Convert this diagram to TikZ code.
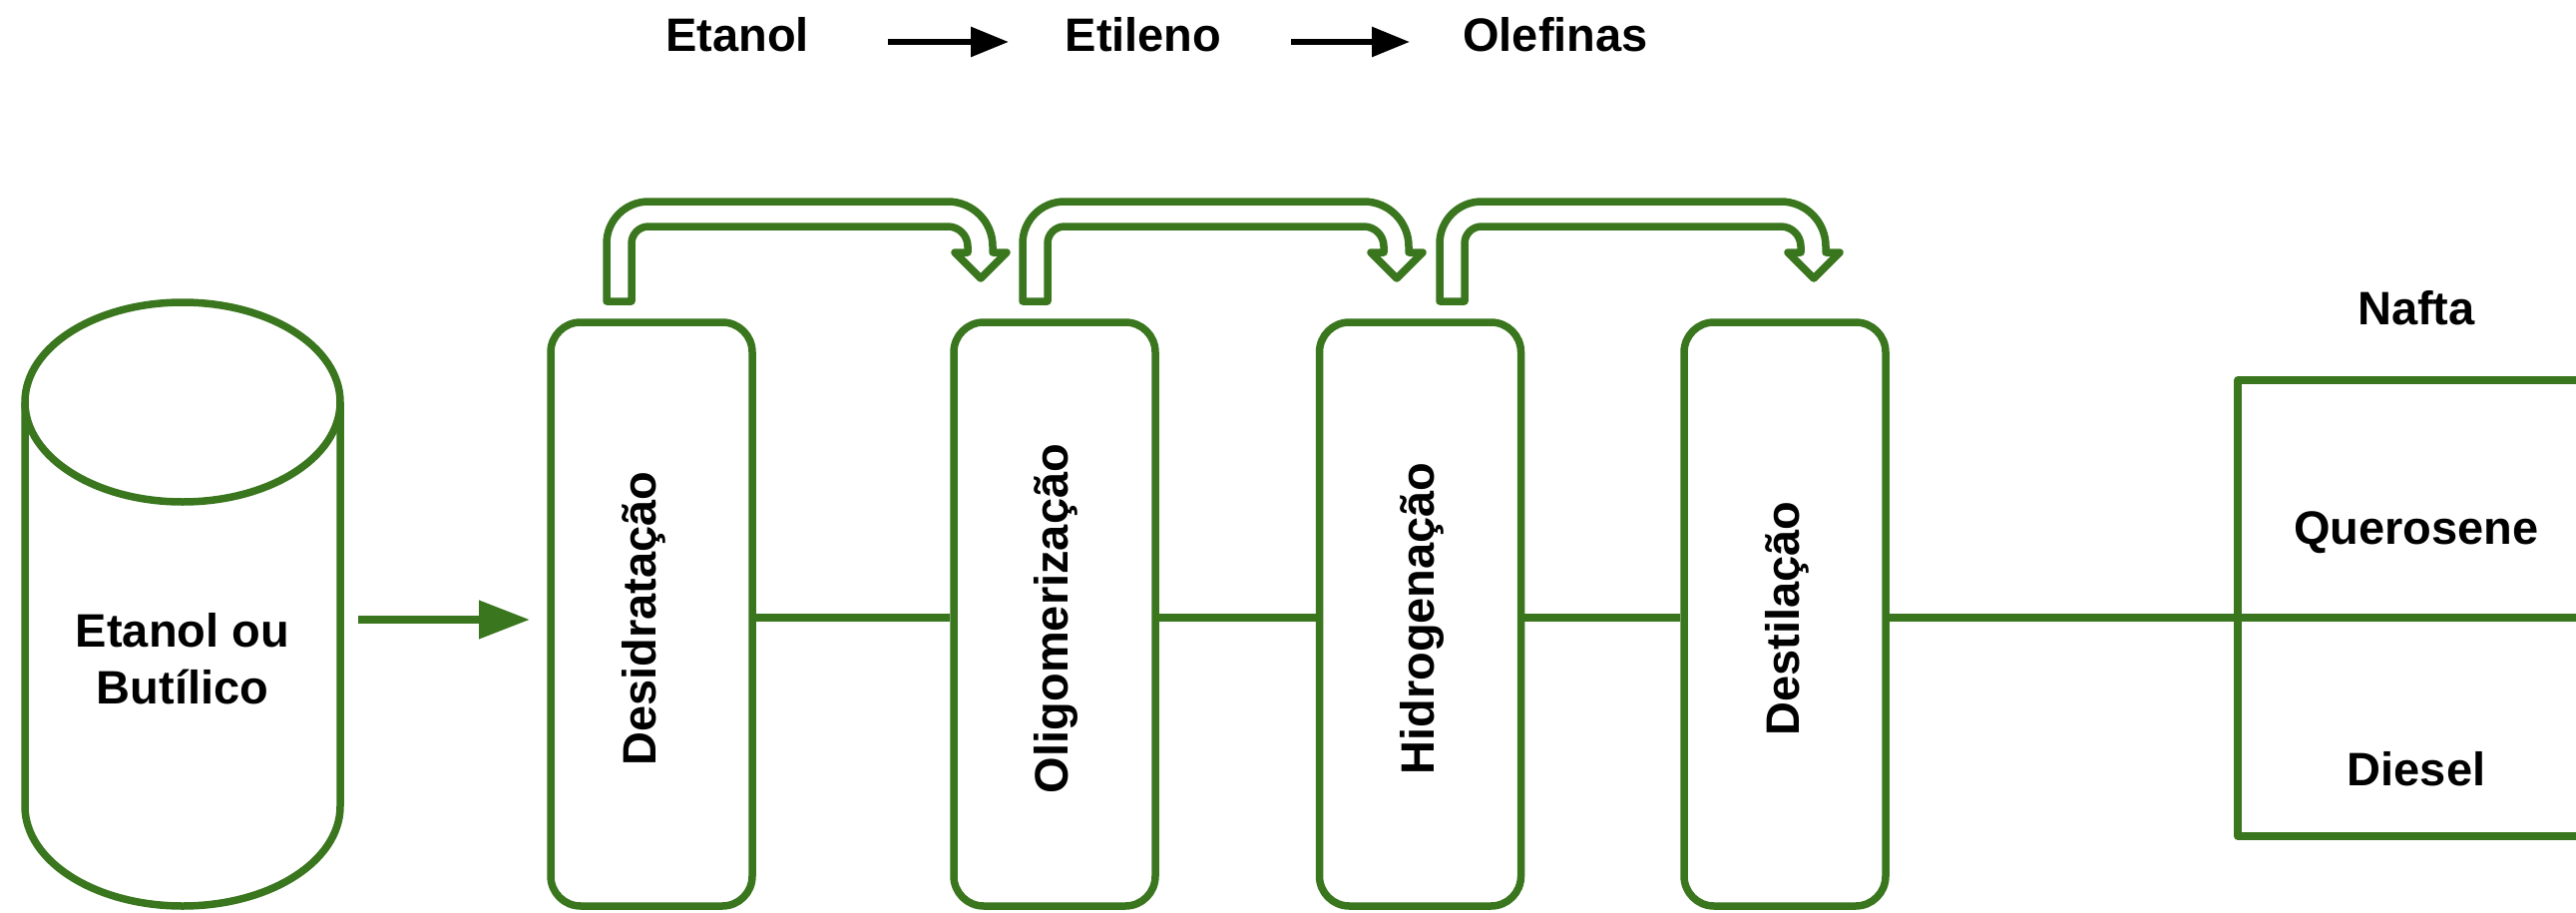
\documentclass[tikz,border=0pt]{standalone}
\usepackage{fontspec}
\setmainfont{Liberation Sans}
\usetikzlibrary{arrows.meta}
\definecolor{vd}{RGB}{58,118,30}
\begin{document}
\begin{tikzpicture}[x=1pt,y=-1pt,line join=round,
  gline/.style={draw=vd,line width=7.5pt},
  procbox/.style={draw=vd,line width=7.5pt,rounded corners=30pt,minimum width=202pt,minimum height=585pt,inner sep=0pt},
  lbl/.style={font=\bfseries\fontsize{47}{57}\selectfont,inner sep=0pt,anchor=base},
  vlbl/.style={lbl,rotate=90},
  bent/.style={draw=vd,line width=7.5pt,line join=round,fill=white}]
\useasboundingbox (0,0) rectangle (2582,915);
\fill[white] (0,0) rectangle (2582,915);

% top chain
\node[lbl] (et) at (739,52) {Etanol};
\node[lbl] (eti) at (1146,52) {Etileno};
\node[lbl] (ole) at (1559,52) {Olefinas};
\coordinate (ta0) at (890,42); \coordinate (ta1) at (1011,42);
\coordinate (tb0) at (1294,42); \coordinate (tb1) at (1413,42);
\draw[line width=6pt,-{Triangle[length=38pt,width=29pt]}] (ta0) -- (ta1);
\draw[line width=6pt,-{Triangle[length=38pt,width=29pt]}] (tb0) -- (tb1);

% cylinder
\draw[gline] (25,403) -- (25,808) arc[start angle=180,end angle=0,x radius=158,y radius=100] -- (341,403);
\draw[gline] (183,403) ellipse [x radius=158,y radius=100];
\node[lbl,align=center] (src) at (183,705) {Etanol ou\\Butílico};

% boxes
\node[procbox] (b1) at (653,615.5) {};
\node[procbox] (b2) at (1057,615.5) {};
\node[procbox] (b3) at (1423.5,615.5) {};
\node[procbox] (b4) at (1789,615.5) {};
\node[vlbl] (l1) at (657,620) {Desidratação};
\node[vlbl] (l2) at (1070,620) {Oligomerização};
\node[vlbl] (l3) at (1437,620) {Hidrogenação};
\node[vlbl] (l4) at (1803,620) {Destilação};

% feed arrow
\coordinate (fa0) at (359,621); \coordinate (fa1) at (531,621);
\draw[gline,-{Triangle[length=51pt,width=37pt]}] (fa0) -- (fa1);

% connectors
\coordinate (mid) at (0,619);
\draw[gline] (b1.east |- mid) -- (b2.west |- mid);
\draw[gline] (b2.east |- mid) -- (b3.west |- mid);
\draw[gline] (b3.east |- mid) -- (b4.west |- mid);
\coordinate (rend) at (2590,619);
\draw[gline] (b4.east |- mid) -- (rend);

% products
\coordinate (pt) at (2590,381); \coordinate (pc1) at (2243,381);
\coordinate (pc2) at (2243,838); \coordinate (pb) at (2590,838);
\draw[gline] (pt) -- (pc1) -- (pc2) -- (pb);
\node[lbl] (naf) at (2422,325) {Nafta};
\node[lbl] (que) at (2422,545) {Querosene};
\node[lbl] (die) at (2422,787) {Diesel};

% bent arrows
\foreach \s in {0,417,835}{
\begin{scope}[xshift=\s pt]
\draw[bent] (608,302) -- (608,244) arc[start angle=180,end angle=270,radius=42]
  -- (950,202) arc[start angle=270,end angle=360,radius=45]
  -- (995,253) -- (1009,253) -- (983,279) -- (957,253) -- (970,253)
  -- (970,247) arc[start angle=0,end angle=-90,radius=20]
  -- (650,227) arc[start angle=270,end angle=180,radius=17]
  -- (633,302) -- cycle;
\end{scope}}
\end{tikzpicture}
\end{document}
